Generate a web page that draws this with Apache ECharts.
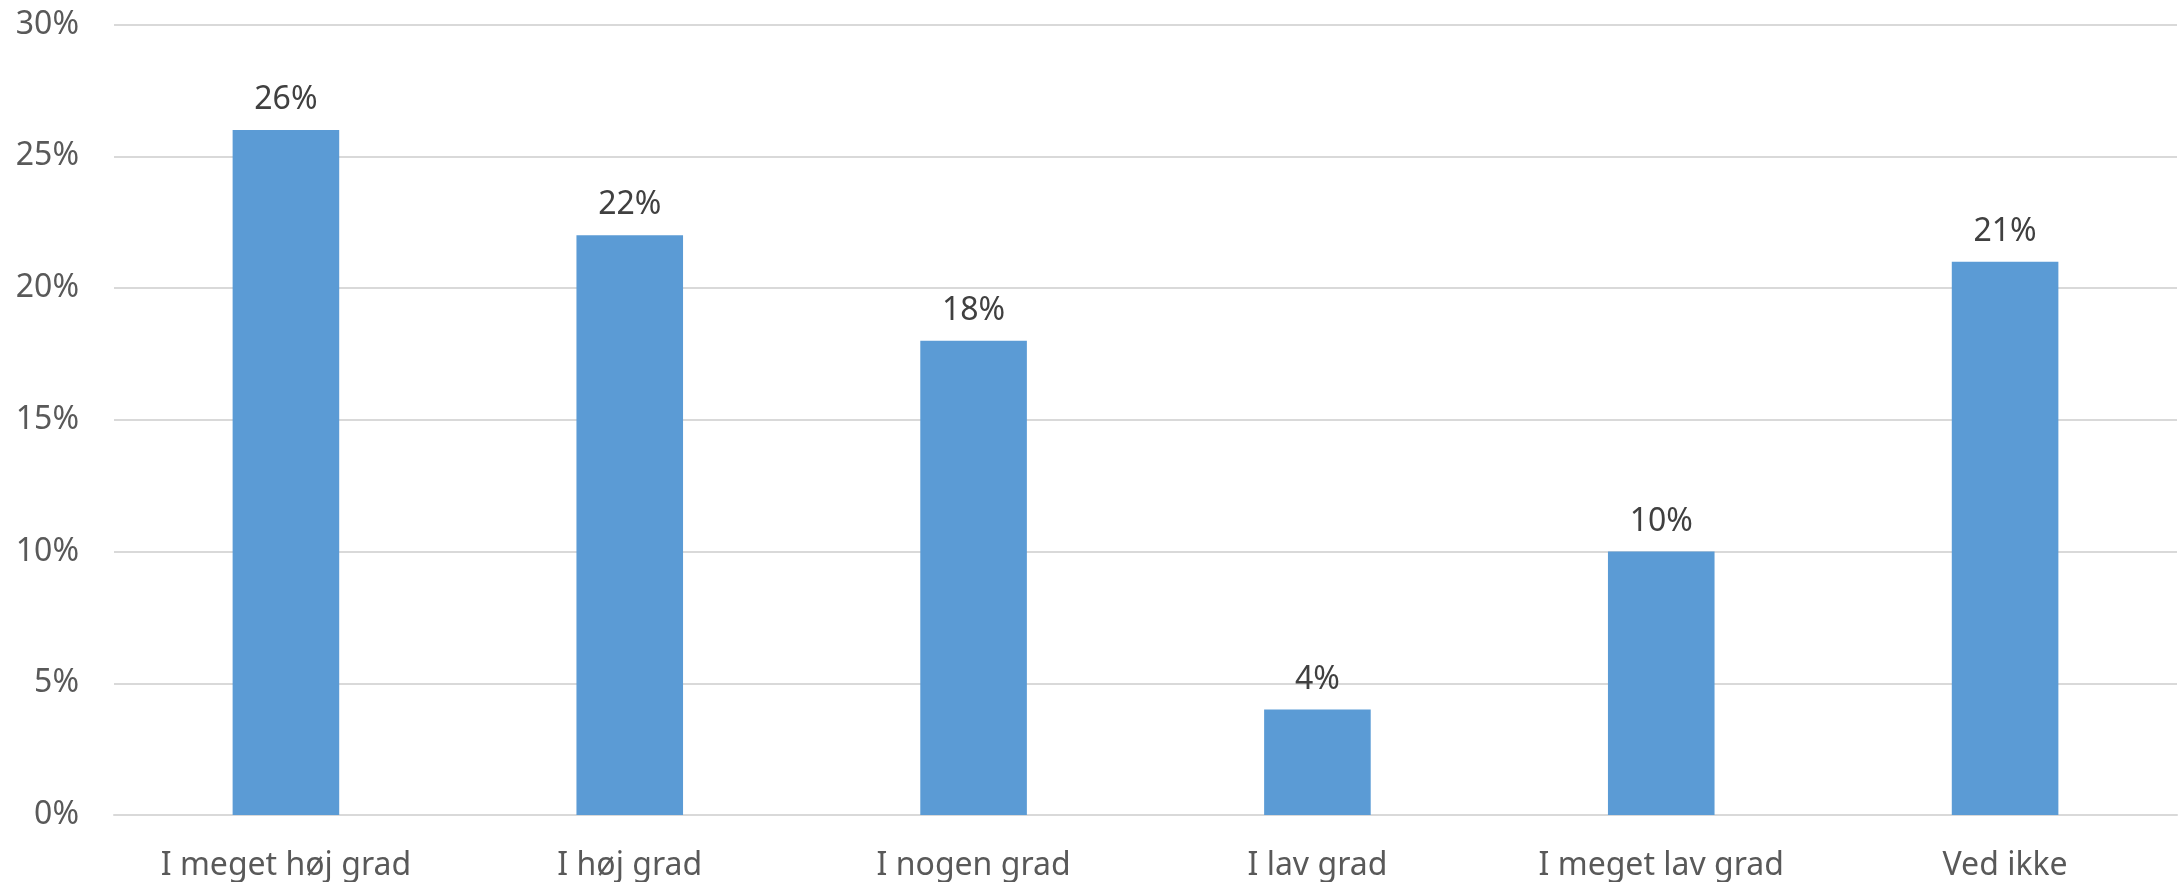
<!DOCTYPE html>
<html><head><meta charset="utf-8">
<script src="https://cdn.jsdelivr.net/npm/echarts@6/dist/echarts.min.js"></script>
<style>html,body{margin:0;padding:0;background:#fff}#c{width:2178px;height:882px}</style>
</head><body><div id="c"></div>
<script>
const categories = ['I meget høj grad', 'I høj grad', 'I nogen grad', 'I lav grad', 'I meget lav grad', 'Ved ikke'];
const values = [26, 22, 18, 4, 10, 21];
const yTicks = [0, 5, 10, 15, 20, 25, 30];

const chart = echarts.init(document.getElementById('c'), null, {renderer: 'canvas'});
const font = '"Noto Sans", "Open Sans", sans-serif';
chart.setOption({
  animation: false,
  grid: {left: 114, right: 1, top: 24.5, bottom: 67, containLabel: false},
  xAxis: {
    type: 'category', data: categories,
    axisLine: {show: true, lineStyle: {color: '#d9d9d9', width: 2}},
    axisTick: {show: false},
    axisLabel: {color: '#595959', fontSize: 32, fontFamily: font, margin: 35}
  },
  yAxis: {
    type: 'value', min: yTicks[0], max: yTicks[yTicks.length - 1], interval: 5,
    axisLine: {show: false}, axisTick: {show: false},
    splitLine: {lineStyle: {color: '#d9d9d9', width: 2}},
    axisLabel: {color: '#595959', fontSize: 32, fontFamily: font, margin: 35, formatter: v => v + '%'}
  },
  series: [{
    type: 'bar', data: values, barWidth: '31%',
    itemStyle: {color: '#5B9BD5'},
    label: {show: true, position: 'top', distance: 14, color: '#404040', fontSize: 32, fontFamily: font, formatter: p => p.value + '%'}
  }]
});
</script></body></html>
